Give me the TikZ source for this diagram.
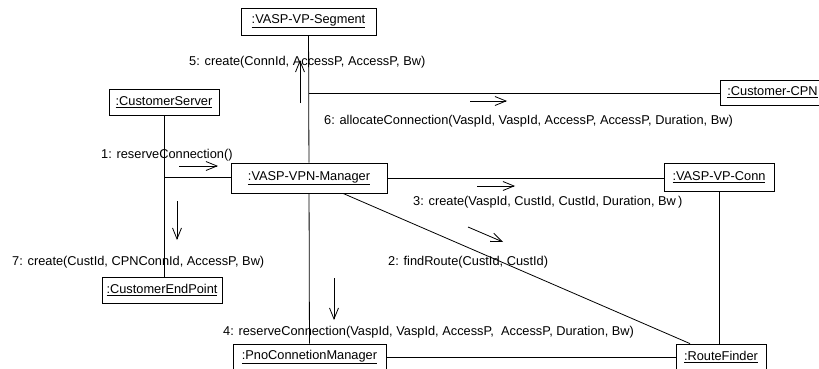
\documentclass[tikz,border=0pt]{standalone}
\usepackage{fontspec}
\setmainfont{Liberation Sans}
\usetikzlibrary{arrows.meta,calc}

\tikzset{
  obj/.style={draw=black, line width=0.8pt, fill=white, inner sep=0pt,
    font=\fontsize{12.8}{14}\selectfont},
  link/.style={draw=black, line width=0.8pt},
  msg/.style={draw=black, line width=0.8pt,
    -{Straight Barb[length=11pt,width=9pt,line width=0.8pt]}},
  lbl/.style={anchor=west, inner sep=0pt, font=\fontsize{12.8}{14}\selectfont}
}

\begin{document}
\begin{tikzpicture}[x=1pt,y=-1pt]
  \useasboundingbox[fill=white] (0,0) rectangle (819,369);

  % objects
  \node[obj, minimum width=135pt, minimum height=27pt] (seg) at (308.5,21.5) {\underline{:VASP-VP-Segment}};
  \node[obj, minimum width=110pt, minimum height=26pt] (cs)  at (164,102)   {\underline{:CustomerServer}};
  \node[obj, minimum width=156pt, minimum height=30pt] (mgr) at (309,178)   {\underline{:VASP-VPN-Manager}};
  \node[obj, minimum width=105pt, minimum height=25pt] (cpn) at (772.5,92.5) {\underline{:Customer-CPN}};
  \node[obj, minimum width=110pt, minimum height=28pt] (conn) at (719,177)  {\underline{:VASP-VP-Conn}};
  \node[obj, minimum width=120pt, minimum height=26pt] (cep) at (162,290)   {\underline{:CustomerEndPoint}};
  \node[obj, minimum width=153pt, minimum height=26pt] (pno) at (309.5,357) {\underline{:PnoConnetionManager}};
  \node[obj, minimum width=90pt,  minimum height=26pt] (rf)  at (721,357)   {\underline{:RouteFinder}};

  % junctions on the lifelines
  \coordinate (j6) at (309,93);
  \coordinate (j1) at (164,177);

  % links
  \draw[link] (seg) -- (mgr);
  \draw[link] (j6) -- (j6 -| cpn.west);
  \draw[link] (cs.south) -- (cs.south |- cep.north);
  \draw[link] (j1) -- (j1 -| mgr.west);
  \draw[link] (mgr.east) -- (mgr.east -| conn.west);
  \draw[link] (mgr) -- (pno);
  \draw[link] ($(mgr.south)+(34,0)$) -- ($(rf.north)+(-31,0)$);
  \draw[link] (conn.south) -- (conn.south |- rf.north);
  \draw[link] (pno.east) -- (pno.east -| rf.west);

  % message arrows
  \coordinate (a5s) at (300,103); \coordinate (a5e) at (300,60);
  \coordinate (a6s) at (470,101); \coordinate (a6e) at (507,101);
  \coordinate (a1s) at (179,166); \coordinate (a1e) at (218,166);
  \coordinate (a3s) at (477,186); \coordinate (a3e) at (515,186);
  \coordinate (a2s) at (468,227); \coordinate (a2e) at (503,242);
  \coordinate (a7s) at (177,201); \coordinate (a7e) at (177,240);
  \coordinate (a4s) at (334,278); \coordinate (a4e) at (334,320);
  \draw[msg] (a5s) -- (a5e);
  \draw[msg] (a6s) -- (a6e);
  \draw[msg] (a1s) -- (a1e);
  \draw[msg] (a3s) -- (a3e);
  \draw[msg] (a2s) -- (a2e);
  \draw[msg] (a7s) -- (a7e);
  \draw[msg] (a4s) -- (a4e);

  % message labels
  \node[lbl] (l5) at (189,62)  {5: create(ConnId, AccessP, AccessP, Bw)};
  \node[lbl] (l6) at (324,121) {6: allocateConnection(VaspId, VaspId, AccessP, AccessP, Duration, Bw)};
  \node[lbl] (l1) at (101,155) {1: reserveConnection()};
  \node[lbl] (l3) at (413,202) {3: create(VaspId, CustId, CustId, Duration, Bw\,)};
  \node[lbl] (l2) at (388,262) {2: findRoute(CustId, CustId)};
  \node[lbl] (l7) at (12,262)  {7: create(CustId, CPNConnId, AccessP, Bw)};
  \node[lbl] (l4) at (223,332) {4: reserveConnection(VaspId, VaspId, AccessP,\ \ AccessP, Duration, Bw)};
\end{tikzpicture}
\end{document}
